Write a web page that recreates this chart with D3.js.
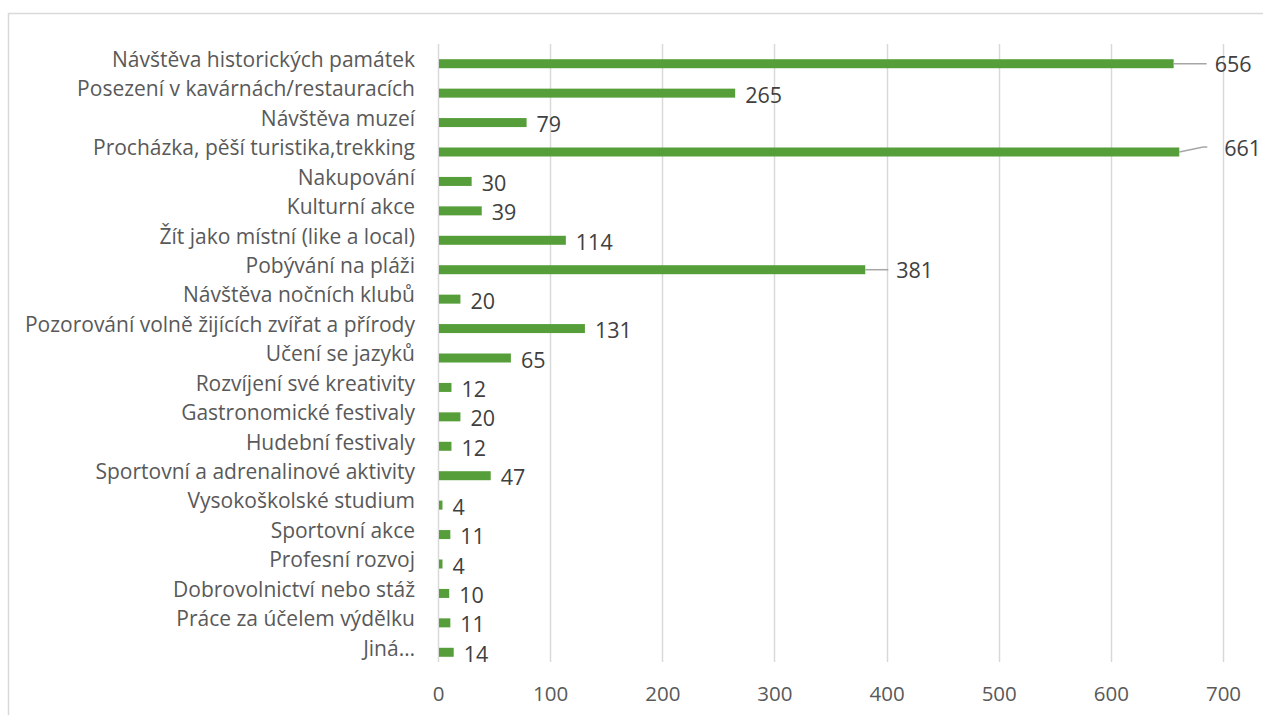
<!DOCTYPE html>
<html>
<head>
<meta charset="utf-8">
<script src="https://cdn.jsdelivr.net/npm/d3@7"></script>
<style>
  body { margin: 0; background: #fff; }
  svg { display: block; }
</style>
</head>
<body>
<svg id="chart"></svg>
<script>
// activities, top to bottom
var categories = [
    'Návštěva historických památek',
    'Posezení v kavárnách/restauracích',
    'Návštěva muzeí',
    'Procházka, pěší turistika,trekking',
    'Nakupování',
    'Kulturní akce',
    'Žít jako místní (like a local)',
    'Pobývání na pláži',
    'Návštěva nočních klubů',
    'Pozorování volně žijících zvířat a přírody',
    'Učení se jazyků',
    'Rozvíjení své kreativity',
    'Gastronomické festivaly',
    'Hudební festivaly',
    'Sportovní a adrenalinové aktivity',
    'Vysokoškolské studium',
    'Sportovní akce',
    'Profesní rozvoj',
    'Dobrovolnictví nebo stáž',
    'Práce za účelem výdělku',
    'Jiná…'
];
var values = [656, 265, 79, 661, 30, 39, 114, 381, 20, 131, 65, 12, 20, 12, 47, 4, 11, 4, 10, 11, 14];
var xTicks = [0, 100, 200, 300, 400, 500, 600, 700];

var width = 1263, height = 715;
var plot = {left: 438, right: 1223, top: 44, bottom: 662};

var svg = d3.select('svg#chart')
    .attr('width', width)
    .attr('height', height);

// outer frame
svg.append('rect')
    .attr('x', 8.5)
    .attr('y', 13.5)
    .attr('width', width)
    .attr('height', height)
    .style('fill', 'none')
    .style('stroke', '#d9d9d9')
    .style('stroke-width', 1.5);

var x = d3.scaleLinear()
    .domain([0, 700])
    .range([plot.left, plot.right]);

var y = d3.scaleBand()
    .domain(categories)
    .range([plot.top, plot.bottom]);

// vertical gridlines
svg.append('g')
    .selectAll('line')
    .data(xTicks)
    .enter().append('line')
    .attr('x1', function(d){ return Math.round(x(d)) + 0.5; })
    .attr('x2', function(d){ return Math.round(x(d)) + 0.5; })
    .attr('y1', plot.top)
    .attr('y2', plot.bottom)
    .style('stroke', '#d9d9d9')
    .style('stroke-width', 1.5);

// x axis tick labels
var xAxis = d3.axisBottom(x).tickValues(xTicks).tickSize(0).tickPadding(0);
var gx = svg.append('g')
    .attr('transform', 'translate(0,' + (plot.bottom + 32) + ')')
    .call(xAxis);
gx.select('.domain').remove();
gx.selectAll('text')
    .attr('dy', '0.35em')
    .style('font-family', '"Open Sans", sans-serif')
    .style('font-size', '20.5px')
    .style('fill', '#595959');

// category labels
svg.append('g')
    .selectAll('text')
    .data(categories)
    .enter().append('text')
    .attr('x', 415)
    .attr('y', function(d){ return y(d) + y.bandwidth() / 2 + 1; })
    .attr('dy', '0.35em')
    .attr('text-anchor', 'end')
    .style('font-family', '"Open Sans", sans-serif')
    .style('font-size', '21px')
    .style('fill', '#595959')
    .text(function(d){ return d; });

var barH = 9;
var barShift = 5; // bars sit a little below the label line

function barMid(i){
    return y(categories[i]) + y.bandwidth() / 2 + barShift;
}

// bars
svg.append('g')
    .selectAll('rect')
    .data(values)
    .enter().append('rect')
    .attr('x', x(0) + 1)
    .attr('y', function(d, i){ return barMid(i) - barH / 2; })
    .attr('width', function(d){ return x(d) - x(0) - 1; })
    .attr('height', barH)
    .style('fill', '#559e3a');

// labels moved away from the bar get a leader line: [line length, rise, gap to text]
var callouts = {0: [33, 0, 8], 3: [28, -5, 17], 7: [23, 0, 8]};

var labels = svg.append('g');
values.forEach(function(v, i){
    var x0 = x(v);
    var yy = barMid(i);
    var tx = x0 + 10;
    var ty = yy + 2;
    if(callouts[i]){
        var c = callouts[i];
        var pts = c[1] === 0
            ? [[x0, yy], [x0 + c[0], yy]]
            : [[x0, yy], [x0 + c[0] - 4, yy + c[1]], [x0 + c[0], yy + c[1]]];
        labels.append('path')
            .attr('d', d3.line()(pts))
            .style('fill', 'none')
            .style('stroke', '#a6a6a6')
            .style('stroke-width', 1.5);
        tx = x0 + c[0] + c[2];
        ty = yy + c[1] + 1;
    }
    labels.append('text')
        .attr('x', tx)
        .attr('y', ty)
        .attr('dy', '0.35em')
        .style('font-family', '"Open Sans", sans-serif')
        .style('font-size', '21.5px')
        .style('fill', '#404040')
        .text(v);
});
</script>
</body>
</html>
